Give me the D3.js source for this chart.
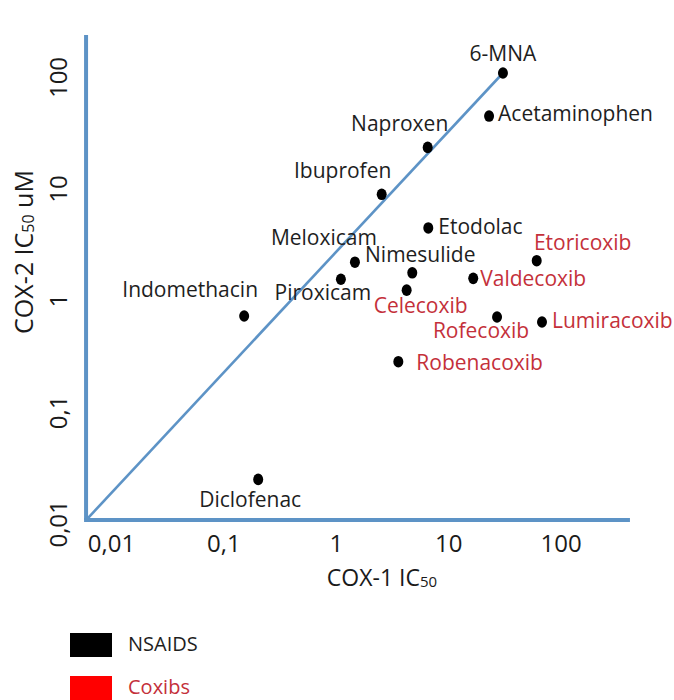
<!DOCTYPE html>
<html>
<head>
<meta charset="utf-8">
<script src="https://cdn.jsdelivr.net/npm/d3@7"></script>
<style>
  html, body { margin: 0; padding: 0; background: #ffffff; }
  svg { display: block; font-family: "Open Sans", sans-serif; }
</style>
</head>
<body>
<svg id="chart" width="674" height="700"></svg>
<script>
// ---------- data ----------
const drugs = ["6-MNA", "Acetaminophen", "Naproxen", "Ibuprofen", "Etodolac", "Etoricoxib",
  "Meloxicam", "Nimesulide", "Piroxicam", "Celecoxib", "Valdecoxib", "Rofecoxib",
  "Lumiracoxib", "Robenacoxib", "Indomethacin", "Diclofenac"];
const cox1IC50 = [30.7, 23.1, 6.57, 2.56, 6.65, 61.3, 1.48, 4.79, 1.11, 4.27, 16.7, 27.2, 68.3, 3.60, 0.153, 0.204];
const cox2IC50 = [108.6, 44.7, 23.4, 8.89, 4.44, 2.26, 2.19, 1.76, 1.54, 1.23, 1.57, 0.707, 0.638, 0.281, 0.722, 0.0248];
const drugClass = ["NSAIDS", "NSAIDS", "NSAIDS", "NSAIDS", "NSAIDS", "Coxibs",
  "NSAIDS", "NSAIDS", "NSAIDS", "Coxibs", "Coxibs", "Coxibs",
  "Coxibs", "Coxibs", "NSAIDS", "NSAIDS"];
const legendClasses = ["NSAIDS", "Coxibs"];

const tickValues = [0.01, 0.1, 1, 10, 100];
const tickLabels = ["0,01", "0,1", "1", "10", "100"];
// extents of the drawn axis lines (data units)
const xAxisExtent = [0.006, 414];
const yAxisExtent = [0.0107, 238];
// reference line: from the axis origin up to 6-MNA
const refLine = [[0.006, 0.0107], [30.7, 108.6]];

// ---------- layout / style ----------
const labelLayout = {
  "6-MNA": ["middle", 0, -12],
  "Acetaminophen": ["start", 9, 5],
  "Naproxen": ["middle", -28, -16],
  "Ibuprofen": ["middle", -39, -16],
  "Etodolac": ["start", 10, 6],
  "Etoricoxib": ["middle", 46, -11],
  "Meloxicam": ["middle", -31, -17],
  "Nimesulide": ["middle", 8, -11],
  "Piroxicam": ["middle", -18, 21],
  "Celecoxib": ["middle", 14, 23],
  "Valdecoxib": ["start", 7, 8],
  "Rofecoxib": ["middle", -16, 21],
  "Lumiracoxib": ["start", 10, 6],
  "Robenacoxib": ["start", 18, 8],
  "Indomethacin": ["middle", -54, -19],
  "Diclofenac": ["middle", -8, 28]
};
const textColor = { "NSAIDS": "#1e1e1e", "Coxibs": "#c4303a" };
const swatchColor = { "NSAIDS": "#000000", "Coxibs": "#ff0000" };
const axisBlue = "#5d93c6";

const svg = d3.select("#chart");

const x = d3.scaleLog().domain([0.01, 100]).range([111, 560.6]);
const y = d3.scaleLog().domain([0.01, 100]).range([523.4, 77]);

// axis lines
svg.append("line")
  .attr("x1", x(xAxisExtent[0])).attr("y1", y(yAxisExtent[0]))
  .attr("x2", x(xAxisExtent[0])).attr("y2", y(yAxisExtent[1]))
  .attr("stroke", axisBlue).attr("stroke-width", 4);
svg.append("line")
  .attr("x1", x(xAxisExtent[0]) - 2).attr("y1", y(yAxisExtent[0]))
  .attr("x2", x(xAxisExtent[1])).attr("y2", y(yAxisExtent[0]))
  .attr("stroke", axisBlue).attr("stroke-width", 4);

// reference diagonal
svg.append("path")
  .datum(refLine)
  .attr("d", d3.line().x(d => x(d[0])).y(d => y(d[1])))
  .attr("fill", "none")
  .attr("stroke", axisBlue)
  .attr("stroke-width", 2.6);

// x axis tick labels
const gx = svg.append("g")
  .attr("transform", "translate(0,535)")
  .call(d3.axisBottom(x).tickValues(tickValues)
    .tickFormat((d, i) => tickLabels[i]).tickSize(0).tickPadding(0));
gx.select(".domain").remove();
gx.selectAll("text")
  .attr("font-family", "Open Sans, sans-serif")
  .attr("font-size", 24)
  .attr("fill", "#1a1a1a");

// y axis tick labels (rotated)
const gy = svg.append("g")
  .attr("transform", `translate(${x(xAxisExtent[0])},0)`)
  .call(d3.axisLeft(y).tickValues(tickValues)
    .tickFormat((d, i) => tickLabels[i]).tickSize(0).tickPadding(0));
gy.select(".domain").remove();
gy.selectAll("text")
  .attr("x", null).attr("dy", null)
  .attr("transform", "translate(-29,0) rotate(-90)")
  .attr("text-anchor", "middle")
  .attr("dominant-baseline", "central")
  .attr("font-family", "Open Sans, sans-serif")
  .attr("font-size", 24)
  .attr("fill", "#1a1a1a");

// axis titles
const xt = svg.append("text")
  .attr("x", 382).attr("y", 586)
  .attr("text-anchor", "middle")
  .attr("font-size", 23).attr("fill", "#1a1a1a");
xt.append("tspan").text("COX-1 IC");
xt.append("tspan").attr("font-size", 15).attr("dy", 1).text("50");

const yt = svg.append("text")
  .attr("transform", "translate(33,252) rotate(-90)")
  .attr("text-anchor", "middle")
  .attr("font-size", 25).attr("fill", "#1a1a1a");
yt.append("tspan").text("COX-2 IC");
yt.append("tspan").attr("font-size", 16).attr("dy", 1).text("50");
yt.append("tspan").attr("dy", -1).text(" uM");

// points
const pts = drugs.map((name, i) => ({ name, c1: cox1IC50[i], c2: cox2IC50[i], cls: drugClass[i] }));
svg.append("g").selectAll("ellipse")
  .data(pts).join("ellipse")
  .attr("cx", d => x(d.c1)).attr("cy", d => y(d.c2))
  .attr("rx", 5).attr("ry", 5.8)
  .attr("fill", "#000");

// labels
svg.append("g").selectAll("text")
  .data(pts).join("text")
  .attr("x", d => x(d.c1) + labelLayout[d.name][1])
  .attr("y", d => y(d.c2) + labelLayout[d.name][2])
  .attr("text-anchor", d => labelLayout[d.name][0])
  .attr("font-size", 21)
  .attr("fill", d => textColor[d.cls])
  .text(d => d.name);

// legend
const lg = svg.append("g").selectAll("g")
  .data(legendClasses).join("g")
  .attr("transform", (d, i) => `translate(70,${633 + i * 43})`);
lg.append("rect").attr("width", 42).attr("height", 24).attr("fill", d => swatchColor[d]);
lg.append("text").attr("x", 58).attr("y", 18).attr("font-size", 20)
  .attr("fill", d => textColor[d]).text(d => d);
</script>
</body>
</html>
